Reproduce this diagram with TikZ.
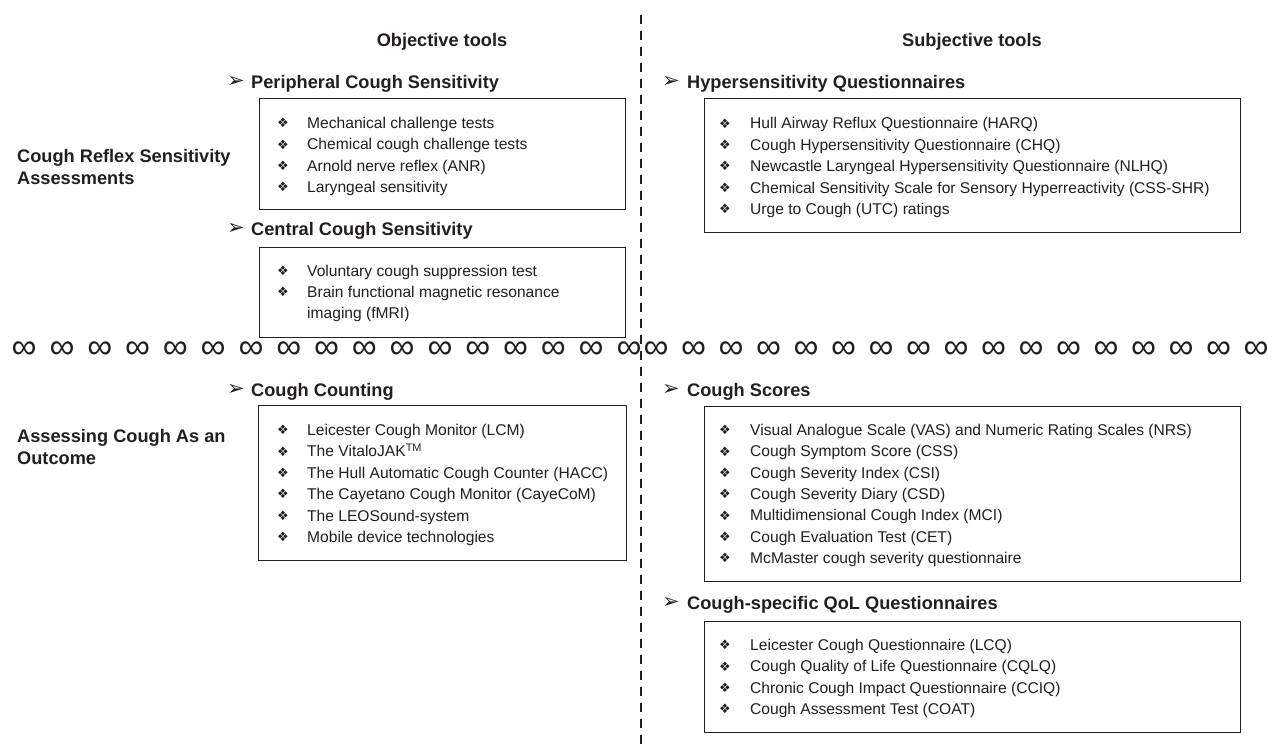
\documentclass[tikz,border=0pt]{standalone}
\usepackage{fontspec}
\setmainfont{Liberation Sans}
\newfontfamily\symfont{DejaVu Sans}
\usetikzlibrary{positioning}
\definecolor{ink}{HTML}{231F20}
\newcommand{\bodyfont}{\fontsize{15.6}{21}\selectfont}
\newcommand{\headfont}{\bfseries\fontsize{18.2}{22}\selectfont}

\begin{document}
\begin{tikzpicture}[x=1pt, y=-1pt,
  framebox/.style={draw=ink, line width=1.1pt, anchor=north west, inner sep=0pt},
  titletext/.style={font=\headfont, text=ink, anchor=base},
  headtext/.style={font=\headfont, text=ink, anchor=base west, inner sep=0pt},
  sidelabel/.style={font=\headfont, text=ink, anchor=west, align=left, inner sep=0pt},
  pointer/.style={font=\symfont\fontsize{21}{21}\selectfont, text=ink, inner sep=0pt},
  bulletmark/.style={font=\symfont\fontsize{13}{13}\selectfont, text=ink, inner sep=0pt},
  listentry/.style={font=\bodyfont, text=ink, anchor=base west, inner sep=0pt},
  infmark/.style={font=\fontsize{35}{35}\selectfont, text=ink, inner sep=0pt},
  divider/.style={draw=ink, line width=2pt, dash pattern=on 9pt off 7pt}]
  \fill[white] (0,0) rectangle (1275,746);
  \useasboundingbox (0,0) rectangle (1275,746);

  % Trennlinie
  \coordinate (divtop) at (641,15);
  \coordinate (divbot) at (641,746);
  \draw[divider] (divtop) -- (divbot);

  % Spaltenkoepfe
  \node[titletext] (objtitle) at (442,46.5) {Objective tools};
  \node[titletext] (subjtitle) at (972,46.5) {Subjective tools};

  % Zeilenbeschriftungen
  \node[sidelabel] (reflex) at (17,166.5) {Cough Reflex Sensitivity\\Assessments};
  \node[sidelabel] (outcome) at (17,447) {Assessing Cough As an\\Outcome};

  % Peripheral Cough Sensitivity
  \node[pointer] (pcsarr) at (236,82) {➢};
  \node[headtext] (pcshead) at (251,88.5) {Peripheral Cough Sensitivity};
  \node[framebox, minimum width=366pt, minimum height=111pt] (pcsbox) at (259,98) {};
  \foreach \txt [count=\i] in {Mechanical challenge tests, Chemical cough challenge tests,
      Arnold nerve reflex (ANR), Laryngeal sensitivity}{
    \node[bulletmark] (pcsb\i) at (283,102+21.2*\i) {❖};
    \node[listentry] (pcs\i) at (307,107.5+21.2*\i) {\txt};
  }

  % Central Cough Sensitivity
  \node[pointer] (ccsarr) at (236,229) {➢};
  \node[headtext] (ccshead) at (251,235.5) {Central Cough Sensitivity};
  \node[framebox, minimum width=366pt, minimum height=90pt] (ccsbox) at (259,247) {};
  \foreach \txt [count=\i] in {Voluntary cough suppression test, Brain functional magnetic resonance}{
    \node[bulletmark] (ccsb\i) at (283,250+21*\i) {❖};
    \node[listentry] (ccs\i) at (307,255.5+21*\i) {\txt};
  }
  \node[listentry] (ccs3) at (307,318.5) {imaging (fMRI)};

  % Hypersensitivity Questionnaires
  \node[pointer] (hqarr) at (671,82) {➢};
  \node[headtext] (hqhead) at (687,88.5) {Hypersensitivity Questionnaires};
  \node[framebox, minimum width=536pt, minimum height=134pt] (hqbox) at (704,98) {};
  \foreach \txt [count=\i] in {Hull Airway Reflux Questionnaire (HARQ),
      Cough Hypersensitivity Questionnaire (CHQ),
      Newcastle Laryngeal Hypersensitivity Questionnaire (NLHQ),
      Chemical Sensitivity Scale for Sensory Hyperreactivity (CSS-SHR),
      Urge to Cough (UTC) ratings}{
    \node[bulletmark] (hqb\i) at (725,102+21.4*\i) {❖};
    \node[listentry] (hq\i) at (750,107.5+21.4*\i) {\txt};
  }

  % Unendlich-Zeile
  \foreach \k in {0,...,16}{
    \node[infmark] (infl\k) at (629-37.8*\k,350) {∞};
    \node[infmark] (infr\k) at (656+37.5*\k,350) {∞};
  }

  % Cough Counting
  \node[pointer] (ccarr) at (236,390) {➢};
  \node[headtext] (cchead) at (251,396.5) {Cough Counting};
  \node[framebox, minimum width=368pt, minimum height=155pt] (ccbox) at (258,405) {};
  \foreach \txt [count=\i] in {Leicester Cough Monitor (LCM), The VitaloJAK\textsuperscript{TM},
      The Hull Automatic Cough Counter (HACC), The Cayetano Cough Monitor (CayeCoM),
      The LEOSound-system, Mobile device technologies}{
    \node[bulletmark] (ccb\i) at (283,408.5+21.4*\i) {❖};
    \node[listentry] (cc\i) at (307,414+21.4*\i) {\txt};
  }

  % Cough Scores
  \node[pointer] (csarr) at (671,390) {➢};
  \node[headtext] (cshead) at (687,396.5) {Cough Scores};
  \node[framebox, minimum width=536pt, minimum height=175pt] (csbox) at (704,406) {};
  \foreach \txt [count=\i] in {Visual Analogue Scale (VAS) and Numeric Rating Scales (NRS),
      Cough Symptom Score (CSS), Cough Severity Index (CSI), Cough Severity Diary (CSD),
      Multidimensional Cough Index (MCI), Cough Evaluation Test (CET),
      McMaster cough severity questionnaire}{
    \node[bulletmark] (csb\i) at (725,408.7+21.33*\i) {❖};
    \node[listentry] (cs\i) at (750,414.2+21.33*\i) {\txt};
  }

  % Cough-specific QoL Questionnaires
  \node[pointer] (qolarr) at (671,603) {➢};
  \node[headtext] (qolhead) at (687,609.5) {Cough-specific QoL Questionnaires};
  \node[framebox, minimum width=536pt, minimum height=111pt] (qolbox) at (704,621) {};
  \foreach \txt [count=\i] in {Leicester Cough Questionnaire (LCQ),
      Cough Quality of Life Questionnaire (CQLQ),
      Chronic Cough Impact Questionnaire (CCIQ), Cough Assessment Test (COAT)}{
    \node[bulletmark] (qolb\i) at (725,623.5+21.4*\i) {❖};
    \node[listentry] (qol\i) at (750,629+21.4*\i) {\txt};
  }
\end{tikzpicture}
\end{document}
